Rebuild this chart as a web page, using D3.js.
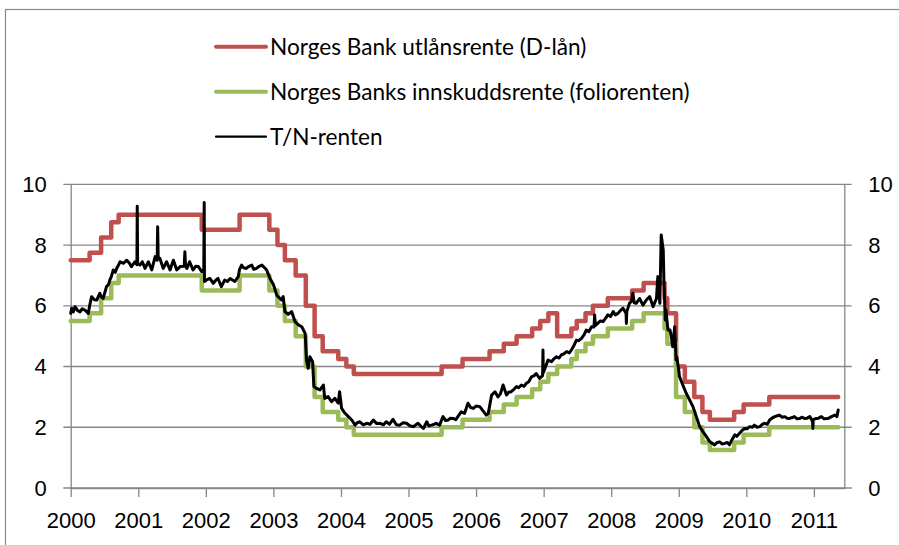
<!DOCTYPE html>
<html>
<head>
<meta charset="utf-8">
<script src="https://cdnjs.cloudflare.com/ajax/libs/d3/7.8.5/d3.min.js"></script>
<style>
body { margin:0; background:#fff; }
svg { font-family: Lato, "Open Sans", sans-serif; display:block; }
.axis text { font-size:22px; fill:#000; }
.axis path, .axis line { stroke:#868686; stroke-width:1.3; }
.grid line { stroke:#868686; stroke-width:1.3; }
.legend text { font-size:22.6px; fill:#000; }
</style>
</head>
<body>
<div id="vis"></div>
<script>
// Data (decimal years)
var xTicks = [2000, 2001, 2002, 2003, 2004, 2005, 2006, 2007, 2008, 2009, 2010, 2011];
var yTicks = [0, 2, 4, 6, 8, 10];
var seriesNames = ["Norges Bank utlånsrente (D-lån)", "Norges Banks innskuddsrente (foliorenten)", "T/N-renten"];

// dates where the policy corridor changed
var stepYear = [2000.00, 2000.28, 2000.45, 2000.60, 2000.71, 2001.94, 2002.50, 2002.94, 2003.06, 2003.17,
                2003.33, 2003.48, 2003.61, 2003.73, 2003.96, 2004.08, 2004.19, 2005.49, 2005.80, 2006.20,
                2006.41, 2006.60, 2006.83, 2006.95, 2007.07, 2007.20, 2007.41, 2007.49, 2007.62, 2007.73,
                2007.95, 2008.31, 2008.48, 2008.79, 2008.83, 2008.96, 2009.09, 2009.23, 2009.35, 2009.46,
                2009.82, 2009.96, 2010.34, 2011.36];
var utlanRate = [7.5, 7.75, 8.25, 8.75, 9.0, 8.5, 9.0, 8.5, 8.0, 7.5,
                 7.0, 6.0, 5.0, 4.5, 4.25, 4.0, 3.75, 4.0, 4.25, 4.5,
                 4.75, 5.0, 5.25, 5.5, 5.75, 5.0, 5.25, 5.5, 5.75, 6.0,
                 6.25, 6.5, 6.75, 6.25, 5.75, 4.0, 3.5, 3.0, 2.5, 2.25,
                 2.5, 2.75, 3.0, 3.0];
var folioRate = [5.5, 5.75, 6.25, 6.75, 7.0, 6.5, 7.0, 6.5, 6.0, 5.5,
                 5.0, 4.0, 3.0, 2.5, 2.25, 2.0, 1.75, 2.0, 2.25, 2.5,
                 2.75, 3.0, 3.25, 3.5, 3.75, 4.0, 4.25, 4.5, 4.75, 5.0,
                 5.25, 5.5, 5.75, 5.25, 4.75, 3.0, 2.5, 2.0, 1.5, 1.25,
                 1.5, 1.75, 2.0, 2.0];

// T/N rate
var tnYear = [2000.00, 2000.015, 2000.04, 2000.064, 2000.10, 2000.138, 2000.17, 2000.21, 2000.26, 2000.28,
              2000.31, 2000.35, 2000.385, 2000.43, 2000.45, 2000.48, 2000.53, 2000.56, 2000.58, 2000.60,
              2000.63, 2000.66, 2000.68, 2000.71, 2000.73, 2000.78, 2000.83, 2000.87, 2000.90, 2000.95,
              2000.98, 2000.985, 2000.99, 2001.025, 2001.06, 2001.10, 2001.15, 2001.20, 2001.25, 2001.28,
              2001.287, 2001.295, 2001.32, 2001.37, 2001.42, 2001.47, 2001.52, 2001.57, 2001.62, 2001.68,
              2001.69, 2001.70, 2001.72, 2001.76, 2001.81, 2001.85, 2001.89, 2001.94, 2001.97, 2001.976,
              2001.98, 2002.01, 2002.06, 2002.11, 2002.15, 2002.18, 2002.23, 2002.28, 2002.32, 2002.36,
              2002.43, 2002.48, 2002.50, 2002.53, 2002.56, 2002.60, 2002.64, 2002.68, 2002.71, 2002.75,
              2002.79, 2002.83, 2002.87, 2002.90, 2002.95, 2003.00, 2003.05, 2003.07, 2003.12, 2003.145,
              2003.17, 2003.22, 2003.27, 2003.32, 2003.37, 2003.42, 2003.47, 2003.49, 2003.515, 2003.54,
              2003.58, 2003.60, 2003.64, 2003.69, 2003.74, 2003.76, 2003.81, 2003.86, 2003.91, 2003.96,
              2003.98, 2004.01, 2004.06, 2004.11, 2004.16, 2004.21, 2004.24, 2004.28, 2004.33, 2004.38,
              2004.43, 2004.48, 2004.53, 2004.58, 2004.63, 2004.67, 2004.72, 2004.77, 2004.82, 2004.87,
              2004.92, 2004.97, 2005.02, 2005.07, 2005.14, 2005.18, 2005.22, 2005.27, 2005.30, 2005.34,
              2005.38, 2005.41, 2005.46, 2005.51, 2005.55, 2005.59, 2005.62, 2005.66, 2005.70, 2005.73,
              2005.78, 2005.83, 2005.88, 2005.92, 2005.96, 2006.00, 2006.055, 2006.10, 2006.15, 2006.18,
              2006.23, 2006.28, 2006.325, 2006.36, 2006.40, 2006.45, 2006.48, 2006.52, 2006.56, 2006.60,
              2006.63, 2006.67, 2006.71, 2006.745, 2006.78, 2006.82, 2006.86, 2006.89, 2006.94, 2006.985,
              2006.99, 2006.995, 2007.02, 2007.065, 2007.115, 2007.15, 2007.19, 2007.23, 2007.26, 2007.30,
              2007.34, 2007.38, 2007.41, 2007.45, 2007.485, 2007.52, 2007.56, 2007.60, 2007.63, 2007.67,
              2007.71, 2007.745, 2007.755, 2007.765, 2007.80, 2007.84, 2007.88, 2007.92, 2007.95, 2007.99,
              2008.03, 2008.06, 2008.10, 2008.14, 2008.175, 2008.22, 2008.225, 2008.23, 2008.27, 2008.30,
              2008.32, 2008.34, 2008.37, 2008.42, 2008.47, 2008.52, 2008.57, 2008.62, 2008.67, 2008.69,
              2008.72, 2008.74, 2008.77, 2008.78, 2008.80, 2008.81, 2008.84, 2008.87, 2008.89, 2008.91,
              2008.94, 2008.96, 2008.97, 2009.00, 2009.01, 2009.06, 2009.11, 2009.16, 2009.21, 2009.26,
              2009.31, 2009.36, 2009.41, 2009.46, 2009.53, 2009.57, 2009.605, 2009.64, 2009.68, 2009.72,
              2009.75, 2009.79, 2009.83, 2009.86, 2009.90, 2009.94, 2009.975, 2010.01, 2010.05, 2010.09,
              2010.12, 2010.16, 2010.20, 2010.24, 2010.27, 2010.31, 2010.345, 2010.38, 2010.42, 2010.46,
              2010.49, 2010.53, 2010.57, 2010.60, 2010.64, 2010.68, 2010.71, 2010.75, 2010.79, 2010.82,
              2010.86, 2010.90, 2010.94, 2010.98, 2010.985, 2010.99, 2011.035, 2011.07, 2011.11, 2011.15,
              2011.19, 2011.22, 2011.26, 2011.31, 2011.34, 2011.36];
var tnRate = [5.75, 5.92, 5.8, 5.97, 5.85, 5.8, 5.9, 5.86, 5.75, 6.0,
              6.3, 6.2, 6.19, 6.41, 6.3, 6.24, 6.63, 6.7, 6.85, 6.95,
              7.18, 7.1, 7.23, 7.35, 7.45, 7.4, 7.5, 7.4, 7.29, 7.45,
              7.35, 9.28, 7.4, 7.34, 7.45, 7.23, 7.45, 7.18, 7.62, 7.5,
              8.6, 7.6, 7.56, 7.23, 7.45, 7.18, 7.5, 7.18, 7.29, 7.3,
              7.78, 7.3, 7.23, 7.45, 7.18, 7.3, 7.29, 7.12, 7.2, 9.4,
              6.8, 6.85, 6.9, 6.74, 6.85, 6.9, 6.63, 6.85, 6.8, 6.9,
              6.8, 6.96, 7.2, 7.34, 7.25, 7.23, 7.3, 7.34, 7.2, 7.23,
              7.3, 7.34, 7.25, 7.18, 6.9, 6.7, 6.35, 6.3, 6.19, 6.3,
              5.81, 5.72, 5.81, 5.48, 5.37, 5.31, 5.09, 4.22, 3.94, 4.32,
              4.16, 3.34, 3.28, 3.23, 3.39, 2.95, 3.01, 2.84, 2.95, 2.79,
              3.17, 2.62, 2.46, 2.35, 2.24, 2.07, 2.15, 2.18, 2.08, 2.13,
              2.1, 2.24, 2.12, 2.13, 2.08, 2.18, 2.1, 2.26, 2.08, 2.07,
              2.15, 2.13, 2.05, 2.02, 2.13, 2.04, 1.96, 2.18, 2.05, 2.07,
              2.1, 2.13, 2.07, 2.35, 2.22, 2.24, 2.3, 2.29, 2.25, 2.35,
              2.51, 2.46, 2.79, 2.65, 2.62, 2.7, 2.68, 2.55, 2.4, 2.45,
              3.06, 3.17, 3.0, 3.1, 3.39, 3.06, 3.15, 3.17, 3.25, 3.34,
              3.3, 3.39, 3.35, 3.45, 3.5, 3.66, 3.7, 3.77, 3.61, 3.7,
              4.54, 3.8, 3.94, 4.21, 4.16, 4.25, 4.32, 4.28, 4.38, 4.42,
              4.49, 4.45, 4.54, 4.7, 4.87, 4.85, 4.93, 5.05, 5.2, 5.15,
              5.31, 5.3, 5.7, 5.35, 5.42, 5.5, 5.48, 5.6, 5.7, 5.65,
              5.81, 5.7, 5.75, 5.85, 5.92, 5.75, 5.42, 5.8, 6.08, 6.15,
              6.41, 6.1, 6.08, 6.24, 6.02, 6.19, 6.3, 5.97, 6.24, 6.96,
              6.08, 8.33, 7.84, 6.85, 5.53, 5.86, 5.2, 5.2, 4.98, 4.65,
              5.31, 4.22, 4.32, 3.88, 3.67, 3.39, 3.12, 2.9, 2.68, 2.35,
              2.02, 1.85, 1.69, 1.52, 1.42, 1.5, 1.52, 1.45, 1.47, 1.5,
              1.42, 1.6, 1.75, 1.7, 1.8, 1.9, 1.96, 1.95, 2.02, 2.0,
              2.07, 2.0, 2.02, 2.1, 2.13, 2.1, 2.24, 2.3, 2.35, 2.38,
              2.4, 2.33, 2.35, 2.3, 2.29, 2.32, 2.35, 2.28, 2.29, 2.33,
              2.29, 2.3, 2.35, 2.2, 1.96, 2.25, 2.29, 2.3, 2.35, 2.28,
              2.29, 2.3, 2.35, 2.4, 2.35, 2.57];

// Layout Settings
var width = 899, height = 545;
var plot = {left:70.7, right:844.3, top:184.3, bottom:488};
var tickOut = 7.4;

var svg = d3.select("#vis")
			.append("svg")
			.attr("width", width)
			.attr("height", height);

// outer chart frame (right and bottom edges fall outside the picture)
svg.append("rect")
   .attr("x", 5.5)
   .attr("y", 9.5)
   .attr("width", 1000)
   .attr("height", 1000)
   .attr("fill", "none")
   .attr("stroke", "#8a8a8a")
   .attr("stroke-width", 1.2);

var x = d3.scaleLinear()
		  .domain([2000, 2011.45])
		  .range([plot.left, plot.right]);

var y = d3.scaleLinear()
		  .domain([0, 10])
		  .range([plot.bottom, plot.top]);

// gridlines, they stick out on both sides like tick marks
svg.append("g")
   .attr("class", "grid")
   .selectAll("line")
   .data(yTicks)
   .enter()
   .append("line")
   .attr("x1", plot.left - tickOut)
   .attr("x2", plot.right + tickOut)
   .attr("y1", function(d) {return y(d);})
   .attr("y2", function(d) {return y(d);});

// axes
svg.append("g")
   .attr("class", "axis")
   .attr("transform", "translate(" + plot.left + ",0)")
   .call(d3.axisLeft(y).tickValues(yTicks).tickSize(0).tickSizeOuter(0).tickPadding(24));

svg.append("g")
   .attr("class", "axis")
   .attr("transform", "translate(" + plot.right + ",0)")
   .call(d3.axisRight(y).tickValues(yTicks).tickSize(0).tickSizeOuter(0).tickPadding(24));

svg.append("g")
   .attr("class", "axis")
   .attr("transform", "translate(0," + plot.bottom + ")")
   .call(d3.axisBottom(x).tickValues(xTicks).tickFormat(d3.format("d"))
   		.tickSize(9).tickSizeOuter(0).tickPadding(15.7));

svg.selectAll(".axis .domain").attr("fill", "none");

// series
var stepLine = d3.line()
				 .x(function(d) {return x(d[0]);})
				 .y(function(d) {return y(d[1]);})
				 .curve(d3.curveStepAfter);

var tnLine = d3.line()
			   .x(function(d) {return x(d[0]);})
			   .y(function(d) {return y(d[1]);});

var utlan = d3.zip(stepYear, utlanRate);
var folio = d3.zip(stepYear, folioRate);
var tn = d3.zip(tnYear, tnRate);

var series = [
	{name: seriesNames[0], data: utlan, color: "#c0504d", w: 4.5, line: stepLine},
	{name: seriesNames[1], data: folio, color: "#9bbb59", w: 4.5, line: stepLine},
	{name: seriesNames[2], data: tn, color: "#000000", w: 3, line: tnLine}
];

svg.append("g")
   .attr("class", "lines")
   .selectAll("path")
   .data(series)
   .enter()
   .append("path")
   .attr("d", function(d) {return d.line(d.data);})
   .attr("fill", "none")
   .attr("stroke", function(d) {return d.color;})
   .attr("stroke-width", function(d) {return d.w;})
   .attr("stroke-linejoin", "round")
   .attr("stroke-linecap", "round");

// legend
var legend = svg.append("g")
				.attr("class", "legend")
				.attr("transform", "translate(216,46.7)");

var item = legend.selectAll("g")
				 .data(series)
				 .enter()
				 .append("g")
				 .attr("transform", function(d, i) {return "translate(0," + (i * 45) + ")";});

item.append("line")
	.attr("x1", 0)
	.attr("x2", 50)
	.attr("stroke", function(d) {return d.color;})
	.attr("stroke-width", function(d, i) {return i < 2 ? 4 : 2.2;})
	.attr("stroke-linecap", "round");

item.append("text")
	.attr("x", 54)
	.attr("dy", "0.35em")
	.text(function(d) {return d.name;});
</script>
</body>
</html>
